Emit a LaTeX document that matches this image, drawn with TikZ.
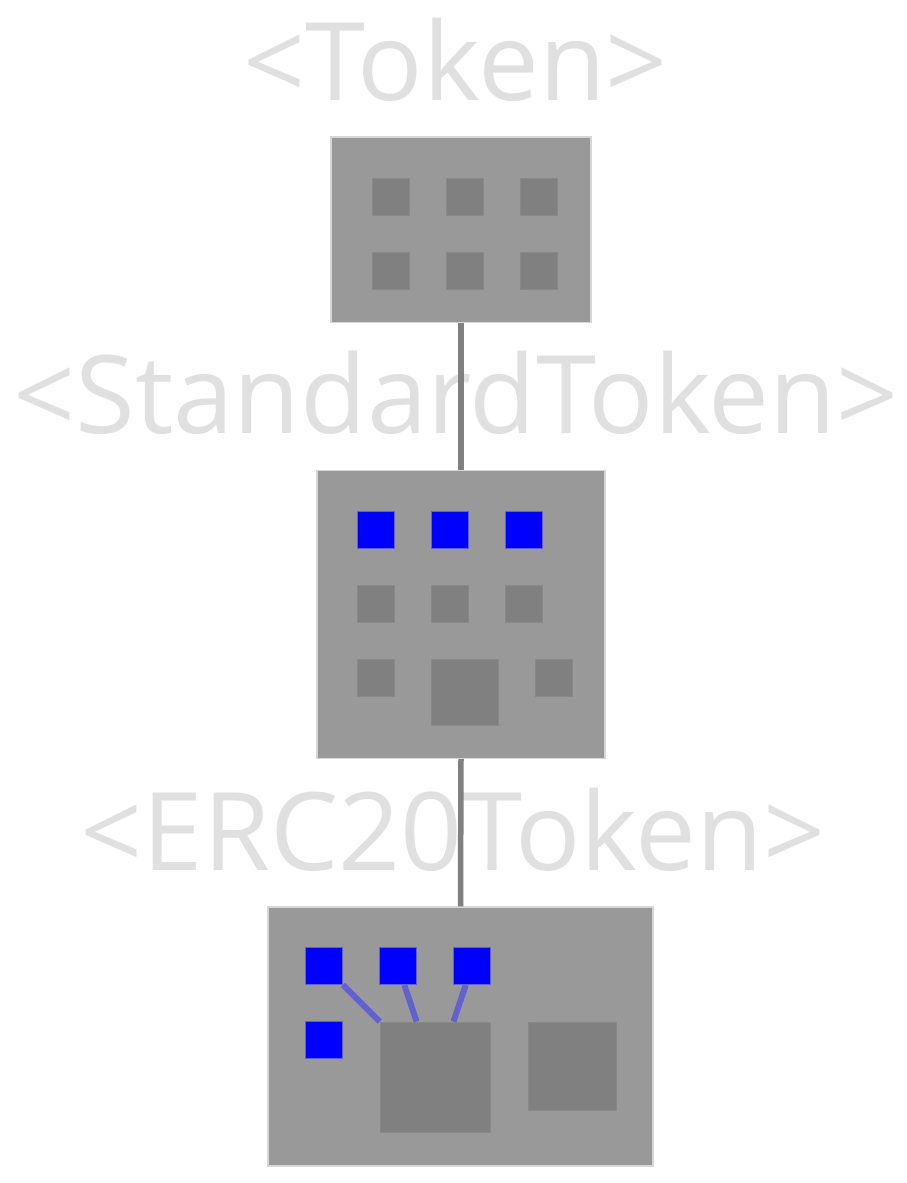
\documentclass[tikz,border=0pt]{standalone}
\usepackage{fontspec}
\setmainfont{Open Sans}
\definecolor{lbl}{RGB}{224,224,224}
\definecolor{boxfill}{RGB}{153,153,153}
\definecolor{boxedge}{RGB}{215,215,215}
\definecolor{sqfill}{RGB}{128,128,128}
\definecolor{sqedge}{RGB}{136,136,136}
\definecolor{linkc}{RGB}{98,98,206}
\definecolor{conn}{RGB}{128,128,128}
\begin{document}
\begin{tikzpicture}[x=1pt,y=-1pt,
  label/.style={text=lbl,font=\fontsize{108.5}{108.5}\selectfont,inner sep=0pt,anchor=base},
  panel/.style={rectangle,fill=boxfill,draw=boxedge,line width=1.5pt,inner sep=0pt},
  graysq/.style={rectangle,fill=sqfill,draw=sqedge,line width=0.8pt,inner sep=0pt,minimum width=#1,minimum height=#1},
  bluesq/.style={rectangle,fill=blue,draw=linkc,line width=0.8pt,inner sep=0pt,minimum width=37pt,minimum height=37pt},
  conline/.style={draw=conn,line width=5.5pt},
  linkline/.style={draw=linkc,line width=6pt}]
\useasboundingbox (0,0) rectangle (906,1183);
% labels
\node[label] (l1) at (455.5,100) {<Token>};
\node[label] (l2) at (456,433.5) {<StandardToken>};
\node[label] (l3) at (453,870) {<ERC20Token>};
% panels
\node[panel,minimum width=260pt,minimum height=185.5pt] (p1) at (461,229.75) {};
\node[panel,minimum width=288pt,minimum height=287.6pt] (p2) at (461,614.5) {};
\node[panel,minimum width=385pt,minimum height=259pt] (p3) at (460.5,1036.5) {};
% connectors
\draw[conline] (p1.south) -- (p2.north);
\draw[conline] (p2.south) -- (p3.north);
% panel 1 squares
\node[graysq=37pt] (a1) at (390.5,196.4) {};
\node[graysq=37pt] (a2) at (464.7,196.4) {};
\node[graysq=37pt] (a3) at (538.9,196.4) {};
\node[graysq=37pt] (a4) at (390.5,270.4) {};
\node[graysq=37pt] (a5) at (464.7,270.4) {};
\node[graysq=37pt] (a6) at (538.9,270.4) {};
% panel 2 squares
\node[bluesq] (b1) at (375.7,529.5) {};
\node[bluesq] (b2) at (449.7,529.5) {};
\node[bluesq] (b3) at (523.7,529.5) {};
\node[graysq=37pt] (b4) at (375.7,603.7) {};
\node[graysq=37pt] (b5) at (449.7,603.7) {};
\node[graysq=37pt] (b6) at (523.7,603.7) {};
\node[graysq=37pt] (b7) at (375.7,677.5) {};
\node[graysq=66.7pt] (b8) at (464.7,692.3) {};
\node[graysq=37pt] (b9) at (553.7,677.5) {};
% panel 3 squares
\node[bluesq] (c1) at (324,966) {};
\node[bluesq] (c2) at (398,966) {};
\node[bluesq] (c3) at (472,966) {};
\node[bluesq] (c4) at (324,1040) {};
\node[graysq=110pt] (c5) at (435,1077) {};
\node[graysq=88pt] (c6) at (572,1066) {};
\draw[linkline] (c1) -- (c5);
\draw[linkline] (c2) -- (c5);
\draw[linkline] (c3) -- (c5);
\end{tikzpicture}
\end{document}
